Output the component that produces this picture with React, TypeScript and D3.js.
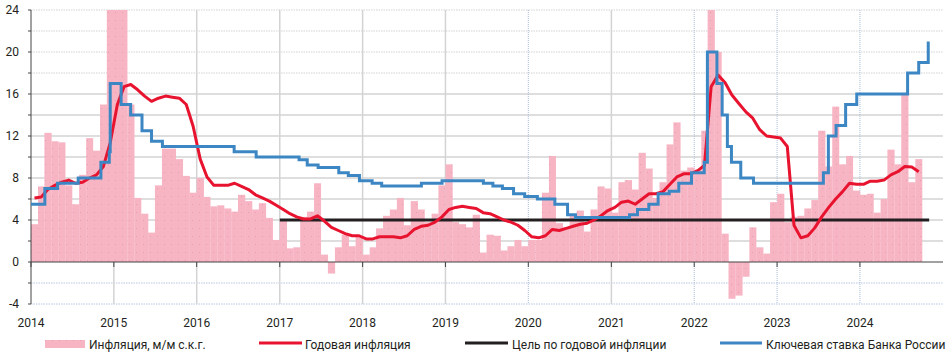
import React from 'react'
import * as d3 from 'd3'

// monthly inflation, m/m seasonally adjusted annualised, Jan 2014 .. Sep 2024
const monthlyInflation = [
  3.6, 7.2, 12.3, 11.5, 11.4, 7.3, 5.5, 8.3, 11.8, 10.6, 15.0, 30.0,
  35.0, 26.0, 15.0, 6.1, 4.6, 2.8, 7.3, 10.8, 10.8, 9.8, 8.2, 6.6,
  8.0, 6.2, 5.3, 5.4, 5.1, 4.8, 6.4, 5.8, 5.0, 5.6, 4.2, 2.1,
  3.9, 1.3, 1.4, 4.3, 4.8, 7.5, 0.7, -1.1, 1.4, 2.6, 1.5, 2.4,
  0.7, 1.4, 3.2, 4.4, 5.0, 6.1, 3.5, 5.8, 5.0, 3.8, 4.6, 7.3,
  9.3, 3.8, 3.6, 3.3, 4.5, 0.9, 2.6, 2.5, 1.1, 1.5, 2.1, 1.5,
  2.1, 2.1, 6.6, 10.1, 3.7, 3.3, 4.5, 4.9, 2.9, 5.0, 7.2, 7.0,
  4.7, 7.6, 7.8, 6.9, 10.4, 8.9, 6.1, 7.6, 11.2, 13.3, 8.7, 9.0,
  8.8, 12.5, 40.0, 20.0, 2.7, -3.5, -3.2, -1.4, 3.3, 1.4, 0.8, 5.7,
  6.5, 3.8, 4.3, 4.4, 5.1, 5.9, 12.5, 9.1, 14.8, 9.3, 10.1, 6.8,
  6.4, 6.5, 4.7, 6.0, 10.7, 9.3, 15.9, 7.6, 9.8,
]

// annual inflation, y/y, Jan 2014 .. Sep 2024
const annualInflation = [
  6.1, 6.2, 6.9, 7.3, 7.6, 7.8, 7.5, 7.6, 8.0, 8.3, 9.1, 11.4,
  15.0, 16.7, 16.9, 16.4, 15.8, 15.3, 15.6, 15.8, 15.7, 15.6, 15.0, 12.9,
  9.8, 8.1, 7.3, 7.3, 7.3, 7.5, 7.2, 6.9, 6.4, 6.1, 5.8, 5.4,
  5.0, 4.6, 4.3, 4.1, 4.1, 4.4, 3.9, 3.3, 3.0, 2.7, 2.5, 2.5,
  2.2, 2.2, 2.4, 2.4, 2.4, 2.3, 2.5, 3.1, 3.4, 3.5, 3.8, 4.3,
  5.0, 5.2, 5.3, 5.2, 5.1, 4.7, 4.6, 4.3, 4.0, 3.8, 3.5, 3.0,
  2.4, 2.3, 2.5, 3.1, 3.0, 3.2, 3.4, 3.6, 3.7, 4.0, 4.4, 4.9,
  5.2, 5.7, 5.8, 5.5, 6.0, 6.5, 6.5, 6.7, 7.4, 8.1, 8.4, 8.4,
  8.7, 9.2, 16.7, 17.8, 17.1, 15.9, 15.1, 14.3, 13.7, 12.6, 12.0, 11.9,
  11.8, 11.0, 3.5, 2.3, 2.5, 3.25, 4.3, 5.2, 6.0, 6.7, 7.5, 7.4,
  7.4, 7.7, 7.7, 7.8, 8.3, 8.6, 9.1, 9.05, 8.6,
]

// key rate decisions
const keyRateDates = [
  '2014-01-01', '2014-03-03', '2014-04-28', '2014-07-28', '2014-11-05', '2014-12-12', '2014-12-16',
  '2015-02-02', '2015-03-16', '2015-05-05', '2015-06-16', '2015-08-03',
  '2016-06-14', '2016-09-19',
  '2017-03-27', '2017-05-02', '2017-06-19', '2017-09-18', '2017-10-30', '2017-12-18',
  '2018-02-12', '2018-03-26', '2018-09-17', '2018-12-17',
  '2019-06-17', '2019-07-29', '2019-09-09', '2019-10-28', '2019-12-16',
  '2020-02-10', '2020-04-27', '2020-06-22', '2020-07-27',
  '2021-03-22', '2021-04-26', '2021-06-15', '2021-07-26', '2021-09-13', '2021-10-25', '2021-12-20',
  '2022-02-14', '2022-02-28', '2022-04-11', '2022-05-04', '2022-05-27', '2022-06-14', '2022-07-25', '2022-09-19',
  '2023-07-24', '2023-08-15', '2023-09-18', '2023-10-30', '2023-12-18',
  '2024-07-29', '2024-09-16', '2024-10-28',
]
const keyRateValues = [
  5.5, 7.0, 7.5, 8.0, 9.5, 10.5, 17.0,
  15.0, 14.0, 12.5, 11.5, 11.0,
  10.5, 10.0,
  9.75, 9.25, 9.0, 8.5, 8.25, 7.75,
  7.5, 7.25, 7.5, 7.75,
  7.5, 7.25, 7.0, 6.5, 6.25,
  6.0, 5.5, 4.5, 4.25,
  4.5, 5.0, 5.5, 6.5, 6.75, 7.5, 8.5,
  9.5, 20.0, 17.0, 14.0, 11.0, 9.5, 8.0, 7.5,
  8.5, 12.0, 13.0, 15.0, 16.0,
  18.0, 19.0, 21.0,
]

const targetValue = 4
const targetStart = '2017-01-01'
const targetEnd = '2024-11-01'

const yearLabels = ['2014', '2015', '2016', '2017', '2018', '2019', '2020', '2021', '2022', '2023', '2024']
const yTickValues = [-4, 0, 4, 8, 12, 16, 20, 24]

const legendLabels = ['Инфляция, м/м с.к.г.', 'Годовая инфляция', 'Цель по годовой инфляции', 'Ключевая ставка Банка России']

const PINK = '#f7b5c4'
const RED = '#e8142f'
const BLUE = '#3c87c3'
const BLACK = '#231f20'
const FONT = 'Roboto, Arial, sans-serif'

const parse = d3.timeParse('%Y-%m-%d')

export default function App() {
  const width = 948
  const height = 359
  const left = 31
  const right = 943
  const top = 10
  const bottom = 304

  const x = d3.scaleTime()
    .domain([new Date(2014, 0, 1), new Date(2025, 0, 1)])
    .range([left, right])
  const y = d3.scaleLinear().domain([-4, 24]).range([bottom, top])

  const months = d3.timeMonth.range(new Date(2014, 0, 1), new Date(2024, 9, 1))

  const bars = months.map((m, i) => {
    const v = monthlyInflation[i]
    const x0 = x(m)
    const x1 = x(d3.timeMonth.offset(m, 1))
    return {x0, x1, y0: y(Math.max(0, v)), y1: y(Math.min(0, v))}
  })

  const mid = (m: Date) => (x(m) + x(d3.timeMonth.offset(m, 1))) / 2
  const redLine = d3.line<number>()
    .x((d, i) => mid(months[i]))
    .y(d => y(d))(annualInflation)

  const keyPts = keyRateDates.map((d, i) => [x(parse(d)!), y(keyRateValues[i])] as [number, number])
  const blueLine = d3.line().curve(d3.curveStepAfter)(keyPts)

  const gridVals = d3.range(-4, 25, 2).filter(v => v !== 0)
  const years = yearLabels.map(s => new Date(+s, 0, 1))
  const thinYears = ['2020', '2022', '2023', '2024']

  const legendY = 344

  return (
    <svg width={width} height={height} style={{position: 'absolute', left: 0, top: 0, background: '#fff'}}
      fontFamily={FONT}>
      <defs>
        <pattern id="dots" width="7" height="8" patternUnits="userSpaceOnUse">
          <rect width="7" height="8" fill={PINK} />
          <rect x="3" y="4" width="1" height="1" fill="#e79db0" />
        </pattern>
        <clipPath id="plot">
          <rect x={left} y={top} width={right - left} height={bottom - top} />
        </clipPath>
      </defs>

      {/* horizontal grid */}
      {gridVals.map(v => {
        const dotted = v >= 18 || v < 0
        return <line key={'h' + v} x1={left} x2={right} y1={y(v)} y2={y(v)}
          stroke={v < 0 ? '#b9c6e0' : '#d3d3d3'}
          strokeWidth={dotted ? 1 : 1.4}
          strokeDasharray={dotted ? '1.5,1' : undefined} />
      })}

      {/* vertical grid */}
      {years.slice(1).map((d, i) => {
        const thin = thinYears.includes(yearLabels[i + 1])
        return <line key={'v' + i} x1={x(d)} x2={x(d)} y1={top} y2={bottom}
          stroke={thin ? '#a9bddc' : '#d3d3d3'}
          strokeWidth={thin ? 1 : 1.5}
          strokeDasharray={thin ? '1,1' : undefined} />
      })}

      {/* bars */}
      <g clipPath="url(#plot)">
        {bars.map((b, i) => (
          <rect key={'b' + i} x={b.x0} y={b.y0} width={b.x1 - b.x0 + 0.2} height={Math.max(0, b.y1 - b.y0)}
            fill="url(#dots)" />
        ))}
      </g>

      {/* zero line and axis */}
      <line x1={left} x2={right} y1={y(0)} y2={y(0)} stroke="#444" strokeWidth={1.2} />
      <line x1={left} x2={left} y1={top} y2={bottom} stroke="#444" strokeWidth={1} />
      {years.map((d, i) => (
        <line key={'t' + i} x1={x(d)} x2={x(d)} y1={y(0)} y2={y(0) + 5} stroke="#444" strokeWidth={1} />
      ))}
      {d3.range(-4, 25, 2).map(v => (
        <line key={'yt' + v} x1={left - 3} x2={left} y1={y(v)} y2={y(v)} stroke="#444" strokeWidth={1} />
      ))}

      {/* lines */}
      <g clipPath="url(#plot)">
        <line x1={x(parse(targetStart)!)} x2={x(parse(targetEnd)!)} y1={y(targetValue)} y2={y(targetValue)}
          stroke={BLACK} strokeWidth={3} />
        <path d={redLine || ''} fill="none" stroke={RED} strokeWidth={3} strokeLinejoin="round" />
        <path d={blueLine || ''} fill="none" stroke={BLUE} strokeWidth={3} />
      </g>

      {/* tick labels */}
      {yTickValues.map(v => (
        <text key={'yl' + v} x={19} y={y(v) + 4.3} textAnchor="end" fontSize={12} fill={BLACK}>{v}</text>
      ))}
      {years.map((d, i) => (
        <text key={'xl' + i} x={x(d)} y={327} textAnchor="middle" fontSize={12} fill={BLACK}>{yearLabels[i]}</text>
      ))}

      {/* legend */}
      <rect x={45} y={legendY - 4} width={40} height={8} fill="url(#dots)" />
      <text x={89} y={legendY + 5} fontSize={12} fill={BLACK}>{legendLabels[0]}</text>
      <line x1={259} x2={302} y1={legendY - 1} y2={legendY - 1} stroke={RED} strokeWidth={3} />
      <text x={305} y={legendY + 5} fontSize={12} fill={BLACK}>{legendLabels[1]}</text>
      <line x1={465} x2={508} y1={legendY - 1} y2={legendY - 1} stroke={BLACK} strokeWidth={3} />
      <text x={512} y={legendY + 5} fontSize={12} fill={BLACK}>{legendLabels[2]}</text>
      <line x1={720} x2={762} y1={legendY - 1} y2={legendY - 1} stroke={BLUE} strokeWidth={3} />
      <text x={766} y={legendY + 5} fontSize={12} fill={BLACK}>{legendLabels[3]}</text>
    </svg>
  )
}
